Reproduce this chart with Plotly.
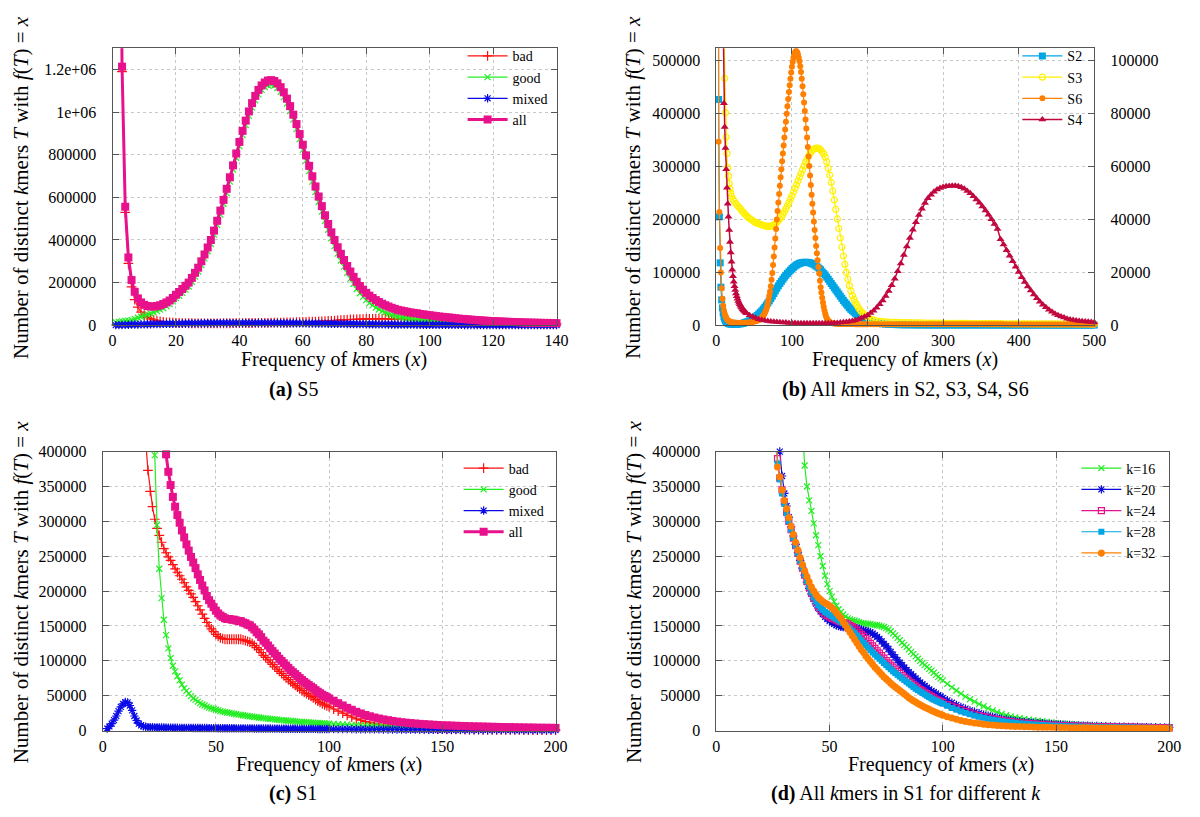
import plotly.graph_objects as go

FONT = "Liberation Serif"
K = 1000  # values below are in thousands of distinct k-mers

# ---------------- (a) S5 ----------------
xa = list(range(1, 141))
a_bad = [8980, 2975, 1190, 530, 290, 180, 120, 85, 62, 47,
         37, 30, 25, 21, 18, 16, 14, 13, 12, 11,
         10.5, 10, 10, 9.5, 9.5, 9, 9, 9, 9, 9,
         9, 9, 9, 9, 9.5, 9.5, 9.5, 10, 10, 10,
         10, 10.5, 10.5, 10.5, 11, 11, 11, 11.5, 11.5, 12,
         12, 12.5, 12.5, 13, 13, 13.5, 14, 14.5, 15, 15.5,
         16, 16.5, 17, 17.5, 18, 18.5, 19, 20, 21, 22,
         23, 24, 25, 26, 27, 27.5, 28, 28.5, 29, 29.5,
         30, 30, 30.5, 30.5, 30.5, 30.5, 30, 30, 29.5, 29,
         28.5, 28, 27, 26.5, 26, 25, 24, 23, 22, 21,
         20.5, 20, 19, 18.5, 18, 17.5, 17, 16.5, 16, 15.5,
         15, 14.5, 14, 13.5, 13, 12.5, 12, 11.5, 11, 10.5,
         10, 10, 9.5, 9.5, 9, 9, 8.5, 8.5, 8, 8,
         8, 7.5, 7.5, 7.5, 7, 7, 7, 7, 6.5, 6.5]
a_good = [14, 16, 18, 20, 22, 25, 30, 35, 40, 46,
          50, 55, 60, 66, 73, 80, 89, 99, 112, 127,
          138, 152, 167, 182, 204, 228, 252, 282, 314, 347,
          381, 425, 471, 519, 569, 620, 674, 730, 786, 840,
          892, 939, 982, 1021, 1055, 1083, 1104, 1117, 1126, 1128,
          1124, 1113, 1095, 1070, 1040, 1005, 965, 920, 873, 823,
          772, 723, 674, 625, 578, 533, 489, 448, 408, 371,
          336, 304, 275, 246, 219, 194, 170, 150, 133, 118,
          104, 93, 83, 74, 66, 60, 54, 48, 44, 40,
          37, 35, 33, 31, 29, 28, 26, 25.5, 24.6, 23.7,
          22.3, 20.9, 20, 19, 18.1, 17.2, 16.2, 14.8, 13.9, 12.9,
          12.5, 11.5, 11.1, 10.1, 9.7, 9.2, 8.7, 8.3, 7.8, 7.4,
          7.4, 6.9, 6.5, 6, 6, 5.5, 5.6, 4.6, 4.6, 4.1,
          3.7, 3.7, 3.7, 3.2, 3.2, 3.2, 2.7, 2.7, 2.7, 2.7]
a_mixed = [0.5, 1, 1.5, 2, 2.5, 3, 3.3, 3.6, 4, 4.3,
           4.6, 5, 5.3, 5.6, 6, 6.3, 6.6, 7, 7.2, 7.5,
           7.7, 8, 8.2, 8.4, 8.6, 8.8, 9, 9.1, 9.3, 9.4,
           9.5, 9.6, 9.7, 9.8, 9.9, 10, 10, 10.1, 10.1, 10.2,
           10.2, 10.2, 10.2, 10.2, 10.2, 10.2, 10.1, 10.1, 10, 10,
           9.9, 9.8, 9.7, 9.6, 9.5, 9.4, 9.3, 9.2, 9, 8.9,
           8.7, 8.6, 8.4, 8.2, 8, 7.8, 7.6, 7.4, 7.2, 7,
           6.8, 6.6, 6.4, 6.2, 6, 5.8, 5.6, 5.4, 5.2, 5,
           4.8, 4.6, 4.5, 4.3, 4.1, 4, 3.8, 3.7, 3.5, 3.4,
           3.2, 3.1, 3, 2.9, 2.8, 2.7, 2.6, 2.5, 2.4, 2.3,
           2.2, 2.1, 2, 2, 1.9, 1.8, 1.8, 1.7, 1.6, 1.6,
           1.5, 1.5, 1.4, 1.4, 1.3, 1.3, 1.3, 1.2, 1.2, 1.1,
           1.1, 1.1, 1, 1, 1, 1, 0.9, 0.9, 0.9, 0.9,
           0.8, 0.8, 0.8, 0.8, 0.8, 0.8, 0.8, 0.8, 0.8, 0.8]
a_all = [9000, 3000, 1213, 556, 318, 212, 157, 126, 107, 96,
         90, 88, 88, 90, 94, 100, 107, 116, 128, 143,
         156, 170, 185, 200, 222, 246, 270, 300, 332, 365,
         400, 444, 490, 538, 588, 640, 694, 750, 806, 860,
         912, 960, 1003, 1042, 1076, 1104, 1125, 1139, 1148, 1150,
         1146, 1135, 1117, 1093, 1063, 1028, 988, 944, 897, 847,
         797, 748, 699, 651, 604, 559, 516, 475, 436, 400,
         366, 335, 306, 278, 252, 227, 204, 184, 167, 152,
         139, 128, 118, 109, 101, 94, 88, 82, 77, 72,
         69, 66, 63, 60, 58, 56, 53, 51, 49, 47,
         45, 43, 41, 39.5, 38, 36.5, 35, 33, 31.5, 30,
         29, 27.5, 26.5, 25, 24, 23, 22, 21, 20, 19,
         18.5, 18, 17, 16.5, 16, 15.5, 15, 14, 13.5, 13,
         12.5, 12, 12, 11.5, 11, 11, 10.5, 10.5, 10, 10]

# ---------------- (b) S2, S3, S4, S6 ----------------
xb_s2 = list(range(1, 20)) + list(range(20, 201, 2)) + list(range(204, 501, 4))
xb_s3 = list(range(1, 20)) + list(range(20, 201, 2)) + list(range(204, 501, 4))
xb_s6 = (list(range(1, 20)) + list(range(20, 59, 2)) + list(range(59, 151))
         + list(range(152, 201, 2)) + list(range(204, 501, 4)))
xb_s4 = list(range(1, 41)) + list(range(44, 501, 4))

b_s2 = [5000, 1500, 427, 205, 118, 72, 48, 33, 23, 16, 12, 9, 7, 5.5, 4.5, 3.7, 3.1, 2.7, 2.4,
        2.2, 2.0, 1.9, 1.9, 2.1, 2.4, 2.8, 3.3, 4.0, 5.0,
        6, 7, 8.5, 10, 12, 14, 16, 18.5, 21, 24,
        27, 30.5, 34, 38, 42, 46, 50.5, 55, 60, 65,
        70, 74.5, 79, 83, 87, 91, 94.5, 98, 101, 104,
        107, 109.5, 112, 114, 115.5, 117, 118, 118.5, 119, 119,
        119, 118.5, 118, 117, 115.5, 114, 112, 110, 107.5, 105,
        101, 98, 95, 91, 87, 83, 79, 75, 71, 67,
        63, 59, 55, 51, 47, 43.5, 40, 36.5, 33, 30,
        27.5, 25, 22.5, 20, 18, 16, 14.5, 13, 11.5, 10,
        9,
        7, 5.5, 4.3, 3.4, 2.7, 2.2, 1.8, 1.5, 1.3, 1.1,
        1.0, 0.9, 0.8, 0.8, 0.7, 0.7, 0.6, 0.6, 0.6, 0.5,
        0.5, 0.5, 0.5, 0.5, 0.5, 0.5, 0.5, 0.5, 0.5, 0.5,
        0.5, 0.5, 0.5, 0.5, 0.5, 0.5, 0.5, 0.5, 0.5, 0.5,
        0.4, 0.4, 0.4, 0.4, 0.4, 0.4, 0.4, 0.4, 0.4, 0.4,
        0.4, 0.4, 0.4, 0.4, 0.4, 0.4, 0.4, 0.4, 0.4, 0.4,
        0.3, 0.3, 0.3, 0.3, 0.3, 0.3, 0.3, 0.3, 0.3, 0.3,
        0.3, 0.3, 0.3, 0.3, 0.3]
b_s3 = [3000, 2200, 1700, 1350, 1100, 920, 790, 690, 610, 545, 467, 402, 356, 325, 298, 282, 268, 258, 250,
        244, 238, 234, 230, 226, 223, 220, 216, 213, 210,
        207, 204, 202, 200, 198, 196, 194, 193, 192, 191,
        190, 189, 188, 187.5, 187, 187, 187.5, 188.5, 190, 192,
        194.5, 197.5, 201, 205, 209.5, 214.5, 220, 226, 232, 238.5,
        245, 252, 259, 266, 273, 280, 287, 294, 301, 308,
        314, 320, 325, 329, 332, 334, 335, 335, 334, 332,
        328, 324, 318, 309, 297, 284, 270, 254, 237, 219,
        201, 183, 165, 148, 131, 115, 100, 87, 75, 65,
        56, 49, 43, 38, 33, 29, 25.5, 22.5, 19.5, 17,
        15,
        12, 10, 8.5, 7.5, 6.8, 6.3, 6, 5.7, 5.5, 5.3, 5.1, 5,
        4.9, 4.8, 4.7, 4.6, 4.5, 4.4, 4.3, 4.2, 4.1, 4.0,
        3.95, 3.9, 3.85, 3.8, 3.75, 3.7, 3.65, 3.6, 3.55, 3.5,
        3.45, 3.4, 3.35, 3.3, 3.25, 3.2, 3.15, 3.1, 3.05, 3.0,
        3.0, 3.0, 2.9, 2.9, 2.9, 2.8, 2.8, 2.8, 2.7, 2.7, 2.7,
        2.7, 2.6, 2.6, 2.6, 2.6, 2.5, 2.5, 2.5, 2.5, 2.5, 2.4,
        2.4, 2.4, 2.4, 2.4, 2.3, 2.3, 2.3, 2.3, 2.3, 2.2, 2.2]
b_s6 = [3000, 700, 347, 214, 146, 100, 70, 50, 37, 28, 22, 17.5, 14, 11.5, 9.7, 8.4, 7.4, 6.7, 6.2,
        5.8, 5.3, 5.0, 4.8, 4.6, 4.5, 4.5, 4.5, 4.6, 4.7,
        4.9, 5.1, 5.4, 5.8, 6.3, 7, 7.8, 8.7, 9.8, 11,
        12.5, 14, 16, 18, 20.5, 23, 26, 30, 35, 41,
        48, 56, 64, 74, 86, 99, 114, 130, 147, 164,
        182, 200, 216, 232, 248, 264, 280, 295, 310, 325,
        340, 355, 370, 385, 400, 414, 428, 441, 454, 466,
        478, 489, 498, 506, 512, 516, 518, 518, 516, 512,
        506, 499, 490, 479, 466, 452, 437, 421, 405, 389,
        372, 355, 337, 319, 301, 283, 265, 247, 230, 213,
        196, 180, 165, 150, 136, 123, 110, 98, 84, 72,
        62, 52, 43, 35, 28, 22, 17, 13.5, 10.5, 8.5,
        7, 6,
        4.5, 3.7, 3.2, 2.9, 2.7, 2.6, 2.5, 2.4, 2.4, 2.3,
        2.3, 2.3, 2.2, 2.2, 2.2, 2.2, 2.1, 2.1, 2.1, 2.1,
        2.0, 2.0, 2.0, 2.0, 2.0,
        1.9, 1.9, 1.9, 1.9, 1.9, 1.9, 1.9, 1.9, 1.9, 1.9, 1.9, 1.9, 1.9, 1.9, 1.9,
        1.8, 1.8, 1.8, 1.8, 1.8, 1.8, 1.8, 1.8, 1.8, 1.8, 1.8, 1.8, 1.8, 1.8, 1.8,
        1.7, 1.7, 1.7, 1.7, 1.7, 1.7, 1.7, 1.7, 1.7, 1.7, 1.7, 1.7, 1.7, 1.7, 1.7,
        1.6, 1.6, 1.6, 1.6, 1.6, 1.6, 1.6, 1.6, 1.6, 1.6, 1.6, 1.6, 1.6, 1.6, 1.6,
        1.5, 1.5, 1.5, 1.5, 1.5, 1.5, 1.5, 1.5, 1.5, 1.5, 1.5, 1.5, 1.5, 1.5, 1.5]
b_s4 = [2000, 1000, 600, 400, 290, 220, 170, 135, 108, 84,
        75, 67, 59, 52, 46, 41, 36, 31.5, 27.5, 24,
        21, 18.5, 16.5, 14.8, 13.3, 12, 11, 10, 9.2, 8.5,
        7.9, 7.4, 6.9, 6.5, 6.1, 5.7, 5.4, 5.1, 4.8, 4.5,
        3.8, 3.2, 2.7, 2.3, 2.0, 1.8, 1.6, 1.4, 1.3, 1.2,
        1.1, 1.0, 1.0, 0.9, 0.9, 0.9, 0.8, 0.8, 0.8, 0.8,
        0.8, 0.8, 0.8, 0.8, 0.8, 0.8, 0.8, 0.8,
        0.9, 0.9, 1.0, 1.1, 1.2, 1.4, 1.6, 1.9, 2.3, 2.7, 3.2, 3.8,
        4.6, 5.5, 6.6, 7.9, 9.4, 11.1, 13.0, 15.1, 17.6, 20.4,
        23.4, 26.6, 29.8, 33.0, 36.1, 39.0, 41.7, 44.1, 46.2, 48.0,
        49.4, 50.5, 51.3, 51.9, 52.3,
        52.6, 52.7, 52.8, 52.8, 52.6, 52.2, 51.6, 50.8, 49.9, 48.8,
        47.6, 46.3, 44.9, 43.4, 41.8, 40.1, 38.3, 36.4, 32.5, 30.5,
        28.4, 26.3, 24.2, 22.1, 20.1,
        18.2, 16.4, 14.7, 13.1, 11.6, 10.2, 8.9, 7.8, 6.8, 5.9,
        5.1, 4.4, 3.8, 3.3, 2.9, 2.5, 2.2, 2.0, 1.8, 1.6,
        1.5, 1.4, 1.3, 1.2, 1.1]

# ---------------- (c) S1 ----------------
xc = list(range(2, 101)) + list(range(102, 201, 2))
c_bad = [13000, 9000, 6300, 4600, 3450, 2650, 2080, 1680, 1380, 1150,
         980, 840, 730, 640, 565, 505, 455, 415, 373, 343,
         321, 303, 290, 280, 270, 261, 255, 249, 244, 238,
         232, 227, 222, 217, 212, 206, 201, 196, 191, 185,
         179, 173, 167, 161, 155, 150, 146, 142, 138, 135,
         133, 132, 131, 131, 131, 131, 131, 131, 131, 131,
         130, 129, 128, 127, 125, 122, 119, 116, 112, 108,
         105, 101.5, 98, 95, 91.5, 88, 85, 82, 79, 76,
         73, 70, 67.5, 65, 62.5, 60, 57.5, 55, 53, 51,
         49, 47, 44.5, 42.5, 40.5, 38.5, 37, 35.5, 34,
         31, 28, 25, 22, 19.5, 17, 15, 13, 11.5, 10,
         8.8, 7.8, 6.9, 6.1, 5.4, 4.8, 4.3, 3.9, 3.5, 3.2,
         2.9, 2.7, 2.5, 2.3, 2.1, 2.0, 1.9, 1.8, 1.7, 1.6,
         1.5, 1.4, 1.4, 1.3, 1.3, 1.2, 1.2, 1.1, 1.1, 1.0,
         1.0, 1.0, 0.9, 0.9, 0.9, 0.8, 0.8, 0.8, 0.8, 0.7]
c_good = [20000, 15000, 11000, 8500, 6700, 5400, 4500, 3800, 3300, 2900,
          2550, 2250, 2000, 1780, 1580, 1400, 1230, 1070, 910, 760,
          560, 395, 295, 232, 190, 159, 137, 118, 104, 93,
          85, 78, 72, 66, 61, 57, 53, 49.5, 46.5, 44,
          41.5, 39.5, 37.5, 36, 34.5, 33, 32, 31, 30, 29,
          28, 27.3, 26.6, 26, 25.4, 24.8, 24.2, 23.6, 23, 22.5,
          22, 21.5, 21, 20.5, 20, 19.6, 19.2, 18.8, 18.4, 18,
          17.6, 17.2, 16.8, 16.5, 16.1, 15.8, 15.4, 15.1, 14.8, 14.5,
          14.2, 13.9, 13.6, 13.3, 13, 12.8, 12.5, 12.3, 12, 11.8,
          11.5, 11.3, 11.1, 10.9, 10.7, 10.5, 10.3, 10.1, 9.9,
          9.6, 9.2, 8.9, 8.6, 8.3, 8.0, 7.7, 7.5, 7.2, 7.0,
          6.8, 6.6, 6.4, 6.2, 6.0, 5.8, 5.6, 5.4, 5.3, 5.1,
          5.0, 4.8, 4.7, 4.5, 4.4, 4.3, 4.2, 4.1, 4.0, 3.9,
          3.8, 3.7, 3.6, 3.5, 3.4, 3.3, 3.2, 3.1, 3.0, 3.0,
          2.9, 2.8, 2.7, 2.7, 2.6, 2.5, 2.5, 2.4, 2.4, 2.3]
c_mixed = [3, 6, 10, 15, 21, 28, 34, 38.5, 41, 40.5,
           36, 29, 21, 14.5, 10, 7.5, 6.2, 5.5, 5.1, 4.9,
           4.8, 4.7, 4.6, 4.5, 4.4, 4.4, 4.3, 4.3, 4.2, 4.2,
           4.1, 4.1, 4.0, 4.0, 4.0, 3.9, 3.9, 3.9, 3.8, 3.8,
           3.8, 3.8, 3.7, 3.7, 3.7, 3.6, 3.6, 3.6, 3.6, 3.5,
           3.5, 3.5, 3.5, 3.4, 3.4, 3.4, 3.4, 3.3, 3.3, 3.3,
           3.3, 3.2, 3.2, 3.2, 3.2, 3.1, 3.1, 3.1, 3.1, 3.0,
           3.0, 3.0, 3.0, 2.9, 2.9, 2.9, 2.9, 2.8, 2.8, 2.8,
           2.8, 2.7, 2.7, 2.7, 2.7, 2.6, 2.6, 2.6, 2.6, 2.5,
           2.5, 2.5, 2.5, 2.4, 2.4, 2.4, 2.4, 2.3, 2.3,
           2.3, 2.2, 2.2, 2.1, 2.1, 2.0, 2.0, 1.9, 1.9, 1.8,
           1.8, 1.7, 1.7, 1.6, 1.6, 1.5, 1.5, 1.5, 1.4, 1.4,
           1.4, 1.3, 1.3, 1.3, 1.2, 1.2, 1.2, 1.1, 1.1, 1.1,
           1.0, 1.0, 1.0, 1.0, 1.0, 1.0, 1.0, 1.0, 1.0, 1.0,
           0.9, 0.9, 0.9, 0.9, 0.9, 0.9, 0.9, 0.9, 0.9, 0.9]
c_all = [33000, 24000, 17310, 13115, 10171, 8078, 6614, 5519, 4721, 4091,
         3566, 3119, 2751, 2435, 2155, 1913, 1691, 1491, 1288, 1108,
         886, 703, 590, 517, 464, 424, 396, 371, 352, 335,
         321, 309, 298, 287, 277, 267, 258, 249, 241, 233,
         224, 216, 208, 201, 193, 187, 182, 177, 172, 168,
         165, 163, 161, 160, 160, 159, 159, 158, 157, 157,
         155, 154, 152, 151, 148, 145, 141, 138, 134, 129,
         126, 122, 118, 114, 110.5, 107, 103, 100, 96.6, 93.3,
         90, 86.6, 83.8, 81, 78.2, 75.4, 72.6, 69.9, 67.6, 65.3,
         63, 60.8, 58.1, 55.8, 53.6, 51.4, 49.7, 47.9, 46.2,
         42.9, 39.4, 36.1, 32.7, 29.9, 27, 24.7, 22.4, 20.6, 18.8,
         17.4, 16.1, 15, 13.9, 13, 12.1, 11.4, 10.8, 10.2, 9.7,
         9.3, 8.8, 8.5, 8.1, 7.7, 7.5, 7.3, 7, 6.8, 6.6,
         6.3, 6.1, 6, 5.8, 5.7, 5.5, 5.4, 5.2, 5.1, 5,
         4.8, 4.7, 4.5, 4.5, 4.4, 4.2, 4.2, 4.1, 4.1, 3.9]

# ---------------- (d) S1 for different k ----------------
xd = list(range(26, 101)) + list(range(102, 201, 2))
d_k16 = [1500, 1350, 1200, 1080, 970, 870, 790, 715, 650, 590,
         535, 480, 425, 380, 350, 330, 315, 297, 280, 266,
         250, 236, 222, 210, 200, 192, 185, 179, 174, 170,
         166.5, 163.5, 161, 159.5, 158.5, 157.5, 156.5, 155.5, 154.5, 154,
         153.5, 153, 152.5, 152, 151.5, 151, 150.5, 149.5, 148.5, 147,
         145, 142.5, 139.5, 136.5, 133, 129.5, 126, 123, 120, 116.5,
         113, 110, 106.5, 103, 100, 97, 94, 91.5, 88.5, 86,
         83, 80, 77, 74.5, 72,
         67, 62, 57.5, 53, 48.7, 45, 41.5, 38, 35, 32,
         29, 26.5, 24, 22, 20.5, 19, 17.8, 16.8, 15.8, 15,
         14.2, 13.4, 12.6, 11.8, 11, 10.5, 10, 9.5, 9, 8.5,
         8.2, 7.9, 7.6, 7.3, 7, 6.8, 6.6, 6.4, 6.2, 6.0,
         5.9, 5.8, 5.7, 5.6, 5.5, 5.4, 5.3, 5.2, 5.1, 5.0]
d_k20 = [560, 470, 400, 365, 340, 322, 306, 292, 279, 267,
         255, 244, 233, 223, 213, 204, 196, 189, 182, 176,
         171, 167, 163, 160, 157, 155, 153, 151, 150, 149,
         148.5, 148, 148, 148, 148, 147.5, 147, 146, 145, 144,
         143, 142, 141, 139, 137, 134.5, 131.5, 128, 124.5, 121,
         117, 113, 109, 105, 101, 97.5, 94, 90.5, 87, 84,
         81, 78, 75, 72, 69, 66.5, 64, 61.5, 59, 57,
         55, 53, 51, 49, 47,
         43.5, 40, 37, 34, 31.5, 29, 27, 25, 23, 21.5,
         20, 18.5, 17, 16, 15, 14, 13.2, 12.5, 12, 11.5,
         11, 10.5, 10, 9.6, 9.2, 8.8, 8.4, 8.1, 7.8, 7.5,
         7.2, 7.0, 6.8, 6.6, 6.4, 6.2, 6.0, 5.8, 5.6, 5.5,
         5.4, 5.3, 5.2, 5.1, 5.0, 4.9, 4.8, 4.7, 4.6, 4.5]
d_k24 = [480, 390, 362, 345, 328, 313, 300, 288, 276, 265,
         254, 243, 233, 223, 214, 205, 197, 190, 184, 178,
         174, 170, 167, 165, 163, 161, 160, 158.5, 157, 156,
         155, 154, 153, 151, 149, 147, 144, 141, 138, 135,
         132, 128.5, 125, 121.5, 118, 114.5, 111, 107.5, 104, 100.5,
         97, 94, 91, 88, 85, 82, 79, 76.5, 74, 71.5,
         69, 66.5, 64, 61.5, 59, 57, 55, 53, 51, 49,
         47, 45, 43.5, 42, 40.5,
         37.5, 35, 32.5, 30, 27.5, 25.5, 23.5, 21.5, 20, 18.5,
         17, 15.8, 14.7, 13.7, 12.8, 12, 11.3, 10.7, 10.1, 9.6,
         9.1, 8.7, 8.3, 7.9, 7.6, 7.3, 7.0, 6.8, 6.6, 6.4,
         6.2, 6.0, 5.8, 5.7, 5.6, 5.5, 5.4, 5.3, 5.2, 5.1,
         5.0, 4.9, 4.8, 4.7, 4.6, 4.5, 4.4, 4.3, 4.2, 4.1]
d_k28 = [470, 383, 360, 340, 325, 312, 300, 288, 276, 265,
         254, 243, 233, 223, 214, 206, 198, 191, 185, 180,
         176, 173, 170, 168, 166, 164, 162, 160, 158, 156,
         154, 151.5, 149, 146, 143, 140, 136.5, 133, 129.5, 126,
         122.5, 119, 115.5, 112, 109, 106, 103, 100, 97, 94,
         91, 88, 85, 82.5, 80, 77.5, 75, 72.5, 70, 67.5,
         65, 62.5, 60, 58, 56, 54, 52, 50, 48, 46,
         44.5, 43, 41.5, 40, 38.5,
         35.5, 32.5, 30, 27.5, 25.5, 23.5, 21.5, 20, 18.5, 17,
         15.8, 14.7, 13.7, 12.8, 12, 11.2, 10.5, 9.9, 9.4, 8.9,
         8.5, 8.1, 7.7, 7.4, 7.1, 6.8, 6.5, 6.3, 6.1, 5.9,
         5.7, 5.5, 5.4, 5.3, 5.2, 5.1, 5.0, 4.9, 4.8, 4.7,
         4.6, 4.5, 4.4, 4.3, 4.2, 4.1, 4.0, 3.9, 3.9, 3.8]
d_k32 = [460, 378, 364, 345, 330, 318, 305, 293, 281, 270,
         259, 248, 238, 229, 221, 213, 206, 200, 195, 191,
         188, 185, 183, 181, 179, 176, 173, 169, 165, 161,
         156, 151, 146, 141, 136, 131, 126, 121, 116, 112,
         107, 103, 99, 95, 91, 87.5, 84, 80.5, 77, 74,
         71, 68, 65, 62.5, 60, 57.5, 55, 52.5, 50, 47,
         45, 43, 41, 39, 37, 35.3, 33.6, 32, 30.5, 29,
         27.5, 26, 24.7, 23.4, 22.2,
         20, 18, 16.2, 14.6, 13.2, 12, 11, 10.1, 9.3, 8.6,
         8.0, 7.5, 7.1, 6.7, 6.4, 6.1, 5.8, 5.6, 5.4, 5.2,
         5.0, 4.9, 4.8, 4.7, 4.6, 4.5, 4.4, 4.3, 4.2, 4.1,
         4.0, 4.0, 3.9, 3.9, 3.8, 3.8, 3.7, 3.7, 3.6, 3.6,
         3.5, 3.5, 3.5, 3.4, 3.4, 3.4, 3.3, 3.3, 3.3, 3.2]

# ---------------- styling ----------------
C_BAD, C_GOOD, C_MIXED, C_ALL = "#ff1010", "#22ee22", "#0a0ae6", "#e8118c"
C_S2, C_S3, C_S6, C_S4 = "#00a6e4", "#fff000", "#ff8000", "#c0083f"
C_K16, C_K20, C_K24, C_K28, C_K32 = "#22ee22", "#0a0ad8", "#e8118c", "#00a6e4", "#ff8000"
AX = "#555555"
GRID = "#c8c8c8"

W, H = 1200, 817


def px(x):
    return x / W


def py(y):
    return 1 - y / H


fig = go.Figure()


def add(xs, ys, name, color, symbol, size, lw, xa_, ya_, leg, mlw=0.0):
    if len(xs) != len(ys):
        raise ValueError(f"length mismatch for {name} on {xa_}: {len(xs)} x vs {len(ys)} y")
    fig.add_trace(go.Scatter(
        x=xs, y=[v * K for v in ys], mode="lines+markers", name=name,
        line=dict(color=color, width=lw),
        marker=dict(symbol=symbol, size=size, color=color,
                    line=dict(color=color, width=mlw)),
        xaxis=xa_, yaxis=ya_, legend=leg, cliponaxis=False))


# (a)
add(xa, a_bad, "bad", C_BAD, "cross-thin-open", 7, 1.2, "x", "y", "legend", 1.2)
add(xa, a_good, "good", C_GOOD, "x-thin-open", 6, 1.2, "x", "y", "legend", 1.2)
add(xa, a_mixed, "mixed", C_MIXED, "asterisk-open", 7, 1.2, "x", "y", "legend", 1.2)
add(xa, a_all, "all", C_ALL, "square", 8, 3, "x", "y", "legend")
# (b)
add(xb_s2, b_s2, "S2", C_S2, "square", 7, 1.2, "x2", "y2", "legend2")
add(xb_s3, b_s3, "S3", C_S3, "circle-open", 6, 1.2, "x2", "y2", "legend2", 1.2)
add(xb_s6, b_s6, "S6", C_S6, "circle", 6, 1.2, "x2", "y2", "legend2")
add(xb_s4, b_s4, "S4", C_S4, "triangle-up", 7, 1.5, "x2", "y5", "legend2")
# (c)
add(xc, c_bad, "bad", C_BAD, "cross-thin-open", 7, 1.2, "x3", "y3", "legend3", 1.2)
add(xc, c_good, "good", C_GOOD, "x-thin-open", 6, 1.2, "x3", "y3", "legend3", 1.2)
add(xc, c_mixed, "mixed", C_MIXED, "asterisk-open", 7, 1.2, "x3", "y3", "legend3", 1.2)
add(xc, c_all, "all", C_ALL, "square", 8, 3, "x3", "y3", "legend3")
# (d)
add(xd, d_k16, "k=16", C_K16, "x-thin-open", 6, 1.2, "x4", "y4", "legend4", 1.2)
add(xd, d_k20, "k=20", C_K20, "asterisk-open", 7, 1.2, "x4", "y4", "legend4", 1.2)
add(xd, d_k24, "k=24", C_K24, "square-open", 6, 1.2, "x4", "y4", "legend4", 1.2)
add(xd, d_k28, "k=28", C_K28, "square", 6, 1.2, "x4", "y4", "legend4")
add(xd, d_k32, "k=32", C_K32, "circle", 7, 1.2, "x4", "y4", "legend4")

tickfont = dict(family=FONT, size=16, color="black")


def xaxis(domain, anchor, rng, dtick):
    return dict(domain=domain, anchor=anchor, range=rng, dtick=dtick, tick0=0,
                showline=True, linecolor=AX, linewidth=1, mirror="ticks",
                ticks="inside", ticklen=6, tickcolor=AX, tickwidth=1,
                showgrid=True, gridcolor=GRID, griddash="dot", gridwidth=1,
                zeroline=False, tickfont=tickfont, ticklabelstandoff=1)


def yaxis(domain, anchor, rng, dtick, mirror="ticks", **kw):
    d = dict(domain=domain, anchor=anchor, range=rng, dtick=dtick, tick0=0,
             showline=True, linecolor=AX, linewidth=1, mirror=mirror,
             ticks="inside", ticklen=6, tickcolor=AX, tickwidth=1,
             showgrid=True, gridcolor=GRID, griddash="dot", gridwidth=1,
             zeroline=False, tickfont=tickfont, tickformat="d", ticklabelstandoff=12)
    d.update(kw)
    return d


top_dom = [py(324), py(41)]
bot_dom = [py(738), py(453)]

a_tickvals = [0, 200000, 400000, 600000, 800000, 1000000, 1200000]
a_ticktext = ["0", "200000", "400000", "600000", "800000", "1e+06", "1.2e+06"]

legfont = dict(family=FONT, size=14, color="black")


def legend(xr, yt):
    return dict(x=px(xr), y=py(yt), xanchor="right", yanchor="top",
                bgcolor="rgba(0,0,0,0)", font=legfont, itemwidth=40,
                tracegroupgap=0)


fig.update_layout(
    width=W, height=H, margin=dict(l=0, r=0, t=0, b=0),
    paper_bgcolor="white", plot_bgcolor="rgba(0,0,0,0)",
    font=dict(family=FONT, color="black"),
    xaxis=xaxis([px(110), px(560)], "y", [0, 140], 20),
    yaxis=yaxis(top_dom, "x", [0, 1300000], None, tickmode="array",
                tickvals=a_tickvals, ticktext=a_ticktext),
    xaxis2=xaxis([px(722), px(1105)], "y2", [0, 500], 100),
    yaxis2=yaxis(top_dom, "x2", [0, 524000], 100000, mirror=False),
    yaxis5=dict(overlaying="y2", side="right", anchor="x2", range=[0, 104800],
                dtick=20000, tick0=0, showline=True, linecolor=AX, linewidth=1,
                ticks="inside", ticklen=6, tickcolor=AX, showgrid=False,
                zeroline=False, tickfont=tickfont, tickformat="d",
                ticklabelstandoff=12),
    xaxis3=xaxis([px(100), px(559)], "y3", [0, 200], 50),
    yaxis3=yaxis(bot_dom, "x3", [0, 400000], 50000),
    xaxis4=xaxis([px(722), px(1181)], "y4", [0, 200], 50),
    yaxis4=yaxis(bot_dom, "x4", [0, 400000], 50000),
    legend=legend(556, 33),
    legend2=legend(1098, 33),
    legend3=legend(552, 454),
    legend4=legend(1172, 454),
)

YT = "Number of distinct <i>k</i>mers <i>T</i> with <i>f</i>(<i>T</i>) = <i>x</i>"
XT = "Frequency of <i>k</i>mers (<i>x</i>)"
yfont = dict(family=FONT, size=21, color="black")
tfont = dict(family=FONT, size=20, color="black")
annots = [
    (17, 183, YT, -90, yfont), (638, 183, YT, -90, yfont),
    (17, 596, YT, -90, yfont), (638, 596, YT, -90, yfont),
    (334, 359, XT, 0, tfont), (913, 359, XT, 0, tfont),
    (329, 773, XT, 0, tfont), (950, 773, XT, 0, tfont),
    (293, 390, "<b>(a)</b> S5", 0, tfont),
    (914, 390, "<b>(b)</b> All <i>k</i>mers in S2, S3, S4, S6", 0, tfont),
    (293, 802, "<b>(c)</b> S1", 0, tfont),
    (914, 802, "<b>(d)</b> All <i>k</i>mers in S1 for different <i>k</i>", 0, tfont),
]
for x0, y0, t, ang, f in annots:
    fig.add_annotation(x=px(x0), y=py(y0), xref="paper", yref="paper", text=t,
                       showarrow=False, textangle=ang, font=f,
                       xanchor="center", yanchor="middle")

fig.write_html("out.html", config={"displayModeBar": False},
               post_script="document.body.style.margin='0';document.body.style.overflow='hidden';")
